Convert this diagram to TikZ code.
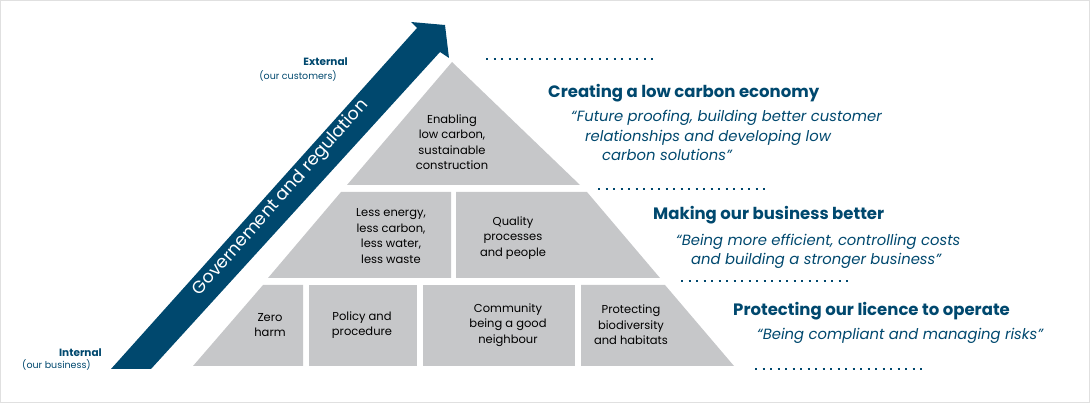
\documentclass[tikz,border=0pt]{standalone}
\usepackage{fontspec}
\setmainfont{Poppins}
\definecolor{navy}{HTML}{00486E}
\definecolor{tier}{HTML}{C6C7C9}
\begin{document}
\begin{tikzpicture}[x=1pt, y=-1pt,
  box/.style = {align=center, font=\fontsize{11.5}{15.5}\selectfont, text=black},
  head/.style = {anchor=base west, inner sep=0pt, font=\fontsize{16.5}{18}\selectfont\bfseries, text=navy},
  quote/.style = {anchor=base west, inner sep=0pt, font=\fontsize{14.8}{18}\selectfont\itshape, text=navy},
  side/.style = {anchor=base east, inner sep=0pt, text=navy},
  dots/.style = {navy, line width=2.2pt, dash pattern=on 2.2pt off 5.3pt}]
\useasboundingbox (0,0) rectangle (1090,403);
\draw[black!12] (0.5,0.5) rectangle (1089.5,402.5);

% arrow
\fill[navy] (111,369) -- (417,28) -- (411,22) -- (445,25) -- (449,58) -- (440,52) -- (151,369) -- cycle;
\node[rotate=48.5, text=white, inner sep=0pt, font=\fontsize{17.5}{20}\selectfont] (gov) at (281,198) {Governement and regulation};

% tiers
\fill[tier] (452,62) -- (580,185) -- (347,185) -- cycle;
\fill[tier] (341,192) -- (451,192) -- (451,278) -- (268,278) -- cycle;
\fill[tier] (456,192) -- (587,192) -- (660,278) -- (456,278) -- cycle;
\fill[tier] (263,285) -- (303,285) -- (303,366) -- (193,366) -- cycle;
\fill[tier] (309,285) rectangle (417,366);
\fill[tier] (423,285) rectangle (575,366);
\fill[tier] (581,285) -- (665,285) -- (734,366) -- (581,366) -- cycle;

\node[box] (t1) at (452,142) {Enabling\\low carbon,\\sustainable\\construction};
\node[box] (m1) at (391,236) {Less energy,\\less carbon,\\less water,\\less waste};
\node[box] (m2) at (513,238) {Quality\\processes\\and people};
\node[box] (b1) at (270,325) {Zero\\harm};
\node[box] (b2) at (362,325) {Policy and\\procedure};
\node[box] (b3) at (508,325) {Community\\being a good\\neighbour};
\node[box] (b4) at (631,325) {Protecting\\biodiversity\\and habitats};

% side labels
\node[side, font=\fontsize{10.5}{12}\selectfont\bfseries] (ext) at (348,66) {External};
\node[side, font=\fontsize{9.5}{12}\selectfont] (extc) at (337,80) {(our customers)};
\node[side, font=\fontsize{10.5}{12}\selectfont\bfseries] (int) at (102,356) {Internal};
\node[side, font=\fontsize{9.5}{12}\selectfont] (intb) at (91,369) {(our business)};

% levels
\draw[dots] (486,59) -- (655,59);
\node[head] (h1) at (548,98) {Creating a low carbon economy};
\node[quote] (q1a) at (571,122) {“Future proofing, building better customer};
\node[quote] (q1b) at (585,142) {relationships and developing low};
\node[quote] (q1c) at (602,161) {carbon solutions”};
\draw[dots] (598,189) -- (765,189);
\node[head] (h2) at (653,220) {Making our business better};
\node[quote] (q2a) at (676,246) {“Being more efficient, controlling costs};
\node[quote] (q2b) at (691,265) {and building a stronger business”};
\draw[dots] (681,281) -- (850,281);
\node[head] (h3) at (733,316) {Protecting our licence to operate};
\node[quote] (q3) at (757,340) {“Being compliant and managing risks”};
\draw[dots] (755,369) -- (922,369);
\end{tikzpicture}
\end{document}
